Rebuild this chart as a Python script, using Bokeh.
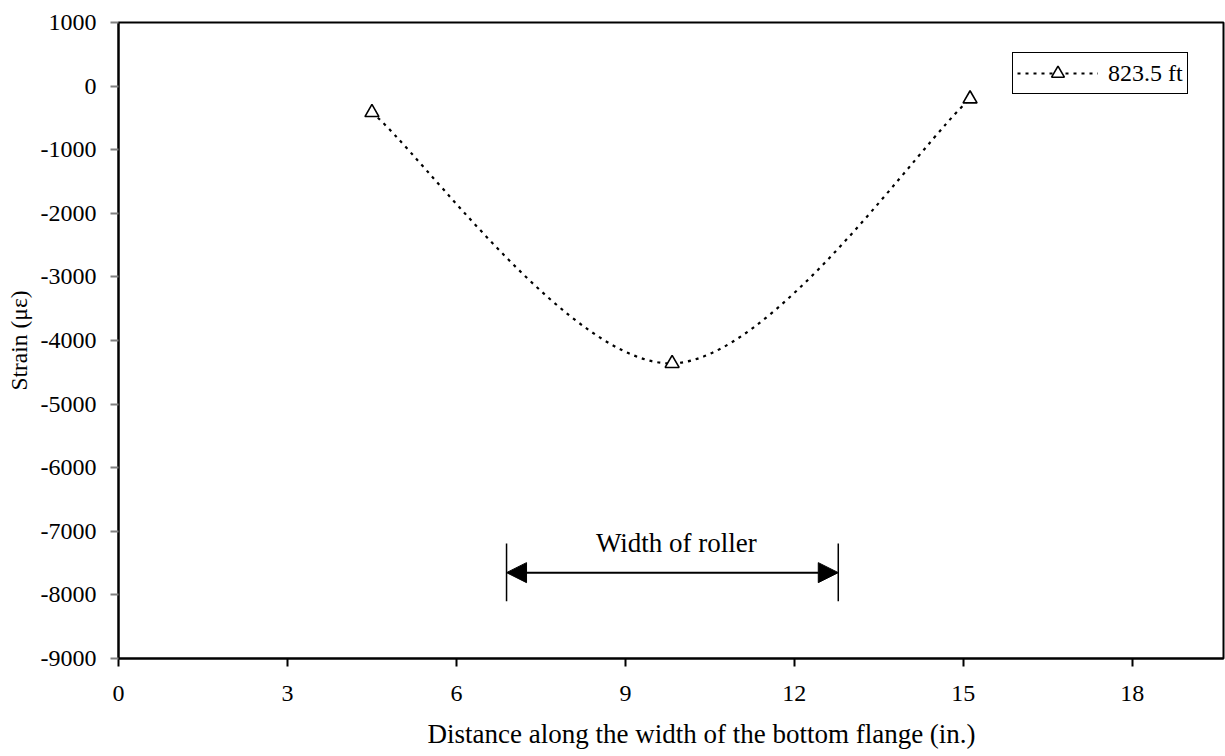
from bokeh.plotting import figure
from bokeh.models import (FixedTicker, Legend, LegendItem, Arrow, NormalHead,
                          Label, Title, ColumnDataSource)
from bokeh.embed import file_html
from bokeh.resources import INLINE

# ---- data ----
distance = [4.5, 9.83, 15.12]          # in.
strain = [-415, -4360, -200]           # micro-strain
series_label = "823.5 ft"
x_ticks = [0, 3, 6, 9, 12, 15, 18]
y_ticks = [-9000, -8000, -7000, -6000, -5000, -4000, -3000, -2000, -1000, 0, 1000]
roller_start = 6.89
roller_end = 12.78
roller_y = -7650
roller_bar_top = -7190
roller_bar_bottom = -8100
roller_text = "Width of roller"
x_title = "Distance along the width of the bottom flange (in.)"
y_title = "Strain (\u03bc\u03b5)"

FONT = "Liberation Serif"

p = figure(frame_width=1105, frame_height=636, min_border_left=118,
           min_border_right=2, min_border_top=22, min_border_bottom=4,
           x_range=(0, 19.62), y_range=(-9000, 1000),
           output_backend="svg", toolbar_location=None,
           background_fill_color="white", border_fill_color="white")
p.grid.visible = False
p.outline_line_color = "black"
p.outline_line_width = 2

# ---- smooth (Catmull-Rom -> Bezier) curve through the data points ----
n = len(distance)
bx0, by0, bx1, by1, bcx0, bcy0, bcx1, bcy1 = [], [], [], [], [], [], [], []
for i in range(n - 1):
    xm = distance[i - 1] if i > 0 else distance[i]
    ym = strain[i - 1] if i > 0 else strain[i]
    xp = distance[i + 2] if i + 2 < n else distance[i + 1]
    yp = strain[i + 2] if i + 2 < n else strain[i + 1]
    bx0.append(distance[i]); by0.append(strain[i])
    bx1.append(distance[i + 1]); by1.append(strain[i + 1])
    bcx0.append(distance[i] + (distance[i + 1] - xm) / 6)
    bcy0.append(strain[i] + (strain[i + 1] - ym) / 6)
    bcx1.append(distance[i + 1] - (xp - distance[i]) / 6)
    bcy1.append(strain[i + 1] - (yp - strain[i]) / 6)

bsrc = ColumnDataSource(dict(x0=bx0, y0=by0, x1=bx1, y1=by1,
                             cx0=bcx0, cy0=bcy0, cx1=bcx1, cy1=bcy1))
curve = p.bezier(x0="x0", y0="y0", x1="x1", y1="y1", cx0="cx0", cy0="cy0",
                 cx1="cx1", cy1="cy1", source=bsrc, line_color="black",
                 line_width=2.2, line_dash="3 5")
pts = p.scatter(distance, strain, marker="triangle", size=14,
                fill_color="white", line_color="black", line_width=1.6)

# ---- roller annotation ----
p.segment(x0=[roller_start, roller_end], y0=[roller_bar_top, roller_bar_top],
          x1=[roller_start, roller_end], y1=[roller_bar_bottom, roller_bar_bottom],
          line_color="black", line_width=1.5)
p.add_layout(Arrow(x_start=roller_start, y_start=roller_y, x_end=roller_end, y_end=roller_y,
                   line_color="black", line_width=2,
                   start=NormalHead(size=20, fill_color="black", line_color="black"),
                   end=NormalHead(size=20, fill_color="black", line_color="black")))
p.add_layout(Label(x=(roller_start + roller_end) / 2 + 0.07, y=roller_bar_top, text=roller_text,
                   text_font=FONT, text_font_size="27px", text_align="center",
                   text_color="black", text_baseline="bottom", y_offset=-15))

# ---- axes ----
p.xaxis.ticker = FixedTicker(ticks=x_ticks)
p.yaxis.ticker = FixedTicker(ticks=y_ticks)
p.xaxis.major_label_overrides = {t: str(t) for t in x_ticks}
p.yaxis.major_label_overrides = {t: str(t) for t in y_ticks}
for ax in (p.xaxis[0], p.yaxis[0]):
    ax.axis_line_color = "black"
    ax.axis_line_width = 2
    ax.minor_tick_line_color = None
    ax.major_tick_in = 0
    ax.major_tick_out = 8
    ax.major_tick_line_width = 2
    ax.major_label_text_font = FONT
    ax.major_label_text_font_size = "24px"
    ax.major_label_text_color = "black"
    ax.axis_label_text_font = FONT
    ax.axis_label_text_font_style = "normal"
    ax.axis_label_text_font_size = "23.5px"
    ax.axis_label_text_color = "black"
p.xaxis.major_tick_line_color = "black"
p.yaxis.major_tick_line_color = "#808080"
p.xaxis.major_label_standoff = 19
p.yaxis.major_label_standoff = 14
p.yaxis.axis_label = y_title
p.yaxis.axis_label_standoff = 6

p.add_layout(Title(text=x_title, align="left", offset=309, standoff=27,
                   text_font=FONT, text_font_size="27px", text_font_style="normal",
                   text_color="black"), "below")

# ---- legend ----
legend = Legend(items=[LegendItem(label=series_label, renderers=[curve, pts])],
                location=(894, 564), orientation="vertical",
                glyph_width=81, glyph_height=32, label_standoff=10,
                padding=4, margin=0, spacing=0,
                border_line_color="black", border_line_width=1.5, border_line_alpha=1,
                background_fill_color="white", background_fill_alpha=1,
                label_text_font=FONT, label_text_font_size="24px",
                label_text_color="black")
p.add_layout(legend)

open("out.html", "w").write(file_html(p, INLINE))
